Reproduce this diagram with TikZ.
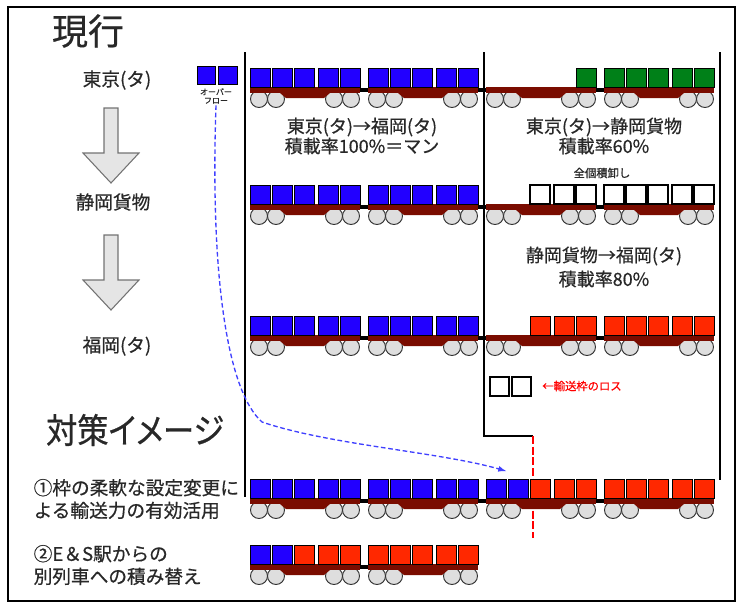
\documentclass[tikz,border=0pt]{standalone}
\usepackage{fontspec}
\setmainfont[FakeBold=0.6]{Noto Sans CJK JP}
\newfontfamily\propjp[RawFeature=+palt, FakeBold=0.6]{Noto Sans CJK JP}

\definecolor{cblue}{RGB}{34,0,255}
\definecolor{cgreen}{RGB}{0,128,24}
\definecolor{cred}{RGB}{255,40,0}
\definecolor{deckred}{RGB}{122,12,0}
\definecolor{ink}{RGB}{40,40,40}

\tikzset{
  ld b/.style={draw=black, line width=0.7pt, fill=cblue},
  ld g/.style={draw=black, line width=0.7pt, fill=cgreen},
  ld r/.style={draw=black, line width=0.7pt, fill=cred},
  ld e/.style={draw=black, line width=0.8pt, fill=white},
  ld n/.style={},
  wheel/.style={draw=black!80, fill=black!13, line width=0.7pt},
  deck/.style={fill=deckred},
  coupler/.style={line width=3pt, black},
  rule/.style={line width=0.9pt, black},
  title/.style={font=\fontsize{27}{27}\selectfont, text=ink},
  station/.style={font=\fontsize{14}{14}\selectfont, text=ink},
  leg/.style={font=\fontsize{13.5}{15}\selectfont, text=ink, align=center},
  note/.style={font=\fontsize{8.5}{9}\selectfont, text=ink},
  item/.style={font=\fontsize{14}{17}\selectfont, text=ink, align=left, anchor=west},
  bigarrow/.style={draw=black!55, fill=black!10, line width=0.8pt},
  overflow/.style={draw=blue!75, dashed, dash pattern=on 3.5pt off 2pt, line width=1pt}
}

% one container wagon: #1 left end, #2 top of the load, #3 five slots
\newcommand{\wagon}[3]{%
  \foreach \wx in {9, 26, 84, 101}
    \draw [wheel] (#1+\wx, #2+31) circle [radius=8.5];
  \fill [deck] (#1, #2+19) rectangle ++(110, 6);
  \fill [deck] (#1+30, #2+25) -- ++(6, 5) -- ++(38, 0) -- ++(6, -5) -- cycle;
  \foreach \ld [count=\i] in {#3} {
    \pgfmathsetmacro\dx{{0, 22, 44, 68, 90}[\i-1]}
    \path [ld \ld] (#1+\dx, #2) rectangle ++(20, 19);
  }
}

% block arrow pointing down: #1 centre x, #2 top, #3 tip
\newcommand{\blockdown}[3]{%
  \draw [bigarrow] (#1-7, #2) -- (#1+7, #2) -- (#1+7, #3-30) -- (#1+28, #3-30)
    -- (#1, #3) -- (#1-28, #3-30) -- (#1-7, #3-30) -- cycle;
}

\begin{document}
\begin{tikzpicture}[x=0.75pt, y=-0.75pt]
\useasboundingbox (0, 0) rectangle (744, 608);
\draw [line width=1.2pt] (8, 7) rectangle (735, 601);

% current operation
\node at (88, 31) [title] (now) {現行};
\node at (117, 80) [station] (tokyo) {東京(タ)};
\node at (113, 202) [station] (shizuoka) {静岡貨物};
\node at (117, 346) [station] (fukuoka) {福岡(タ)};
\blockdown{111}{108}{183}
\blockdown{111}{235}{310}

\draw [rule] (245, 52) -- (245, 497);
\draw [rule] (484, 52) -- (484, 436) -- (533, 436);
\draw [rule] (720, 52) -- (720, 480);
\draw [red, line width=0.8pt, dashed, dash pattern=on 6pt off 2pt] (533, 436) -- (533, 538);

% overflow
\path [ld b] (197, 66) rectangle ++(18, 18);
\path [ld b] (218, 66) rectangle ++(19, 18);
\node at (216, 96) [font=\fontsize{6}{6.5}\selectfont, text=ink, align=center, inner sep=1pt] (ovf) {オーバー\\フロー};

% Tokyo -> Shizuoka
\draw [coupler] (250, 90) -- (714, 90);
\wagon{250}{68}{b,b,b,b,b}
\wagon{368}{68}{b,b,b,b,b}
\wagon{486}{68}{n,n,n,n,g}
\wagon{604}{68}{g,g,g,g,g}
\node at (362, 136) [leg] (leg1) {東京(タ)→福岡(タ)\\積載率100\%＝マン};
\node at (604, 136) [leg] (leg2) {東京(タ)→静岡貨物\\積載率60\%};
\node at (602, 173) [note] (unload) {全個積卸し};

% at Shizuoka
\draw [coupler] (250, 207) -- (714, 207);
\wagon{250}{185}{b,b,b,b,b}
\wagon{368}{185}{b,b,b,b,b}
\wagon{486}{185}{n,n,e,e,e}
\wagon{604}{185}{e,e,e,e,e}
\node at (604, 267) [leg] (leg3) {静岡貨物→福岡(タ)\\[3pt]積載率80\%};

% Shizuoka -> Fukuoka
\draw [coupler] (250, 338) -- (714, 338);
\wagon{250}{316}{b,b,b,b,b}
\wagon{368}{316}{b,b,b,b,b}
\wagon{486}{316}{n,n,r,r,r}
\wagon{604}{316}{r,r,r,r,r}
\path [ld e] (490, 377) rectangle ++(19, 19);
\path [ld e] (512, 377) rectangle ++(19, 19);
\node at (582, 386) [font=\fontsize{8.5}{9}\selectfont, text=red] (loss) {←輸送枠のロス};

% measures
\node at (135, 430) [title, font=\propjp\fontsize{26}{26}\selectfont, xscale=0.9] (plan) {対策イメージ};
\node at (29, 499) [item] (opt1) {①枠の柔軟な設定変更に\\よる輸送力の有効活用};
\node at (29, 565) [item] (opt2) {②E＆S駅からの\\別列車への積み替え};

\draw [coupler] (250, 501) -- (714, 501);
\wagon{250}{479}{b,b,b,b,b}
\wagon{368}{479}{b,b,b,b,b}
\wagon{486}{479}{b,b,r,r,r}
\wagon{604}{479}{r,r,r,r,r}

\draw [coupler] (250, 567) -- (478, 567);
\wagon{250}{545}{b,b,r,r,r}
\wagon{368}{545}{r,r,r,r,r}

\coordinate (drop) at (506, 471);
\draw [overflow, ->, >=latex] (ovf.south) .. controls (210, 280) and (228, 392) .. (262, 422)
  .. controls (330, 445) and (440, 452) .. (drop);
\end{tikzpicture}
\end{document}
